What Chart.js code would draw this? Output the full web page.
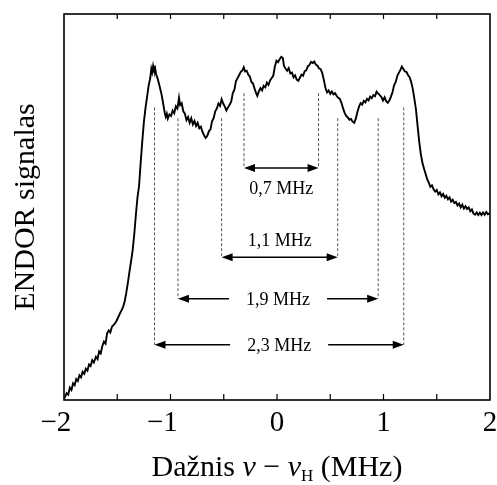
<!DOCTYPE html>
<html>
<head>
<meta charset="utf-8">
<script src="https://cdn.jsdelivr.net/npm/chart.js@4/dist/chart.umd.min.js"></script>
<style>
  body { margin: 0; background: #fff; }
  #wrap { width: 497px; height: 485px; }
</style>
</head>
<body>
<div id="wrap"><canvas id="endorChart"></canvas></div>
<script>
// ENDOR spectrum (x in MHz, signal in arbitrary units 0..100)
const freqMHz = [
  -2.00, -1.99, -1.975, -1.96, -1.945, -1.93, -1.915, -1.90, -1.885, -1.87,
  -1.855, -1.84, -1.825, -1.81, -1.795, -1.78, -1.765, -1.75, -1.735, -1.72,
  -1.70, -1.685, -1.67, -1.655, -1.64, -1.625, -1.61, -1.595, -1.58, -1.565,
  -1.55, -1.535, -1.52, -1.505, -1.49, -1.475, -1.46, -1.445, -1.43, -1.415,
  -1.40, -1.385, -1.37, -1.355, -1.34, -1.325, -1.31, -1.295, -1.28, -1.265,
  -1.25, -1.235, -1.22, -1.205, -1.19, -1.18, -1.172, -1.163, -1.155, -1.145,
  -1.135, -1.12, -1.10, -1.085, -1.07, -1.055, -1.045, -1.035, -1.025, -1.01,
  -0.995, -0.98, -0.965, -0.95, -0.935, -0.92, -0.91, -0.895, -0.88, -0.865,
  -0.85, -0.835, -0.82, -0.805, -0.79, -0.775, -0.76, -0.745, -0.73, -0.715,
  -0.70, -0.685, -0.67, -0.655, -0.64, -0.625, -0.61, -0.595, -0.58, -0.565,
  -0.55, -0.535, -0.52, -0.505, -0.49, -0.475, -0.46, -0.445, -0.43, -0.415,
  -0.40, -0.385, -0.37, -0.355, -0.34, -0.325, -0.312, -0.30, -0.285, -0.27,
  -0.255, -0.24, -0.225, -0.21, -0.195, -0.185, -0.17, -0.155, -0.14, -0.125,
  -0.11, -0.095, -0.08, -0.065, -0.05, -0.035, -0.02, -0.005, 0.01, 0.025,
  0.04, 0.055, 0.065, 0.08, 0.095, 0.11, 0.125, 0.14, 0.155, 0.17,
  0.185, 0.20, 0.215, 0.23, 0.245, 0.26, 0.275, 0.29, 0.305, 0.32,
  0.335, 0.35, 0.365, 0.38, 0.395, 0.41, 0.425, 0.44, 0.455, 0.47,
  0.485, 0.50, 0.515, 0.53, 0.545, 0.56, 0.575, 0.59, 0.605, 0.62,
  0.635, 0.65, 0.665, 0.68, 0.695, 0.71, 0.725, 0.74, 0.755, 0.77,
  0.785, 0.80, 0.815, 0.83, 0.845, 0.86, 0.875, 0.89, 0.905, 0.92,
  0.935, 0.95, 0.965, 0.98, 0.995, 1.01, 1.025, 1.04, 1.055, 1.07,
  1.085, 1.10, 1.115, 1.13, 1.145, 1.16, 1.172, 1.185, 1.20, 1.215,
  1.23, 1.245, 1.26, 1.275, 1.29, 1.305, 1.32, 1.335, 1.35, 1.365,
  1.38, 1.395, 1.41, 1.425, 1.44, 1.455, 1.47, 1.485, 1.50, 1.515,
  1.53, 1.545, 1.56, 1.575, 1.59, 1.605, 1.62, 1.635, 1.65, 1.665,
  1.68, 1.695, 1.71, 1.725, 1.74, 1.755, 1.77, 1.785, 1.80, 1.815,
  1.83, 1.845, 1.86, 1.875, 1.89, 1.905, 1.92, 1.935, 1.95, 1.965,
  1.98, 2.00
];
const signal = [
  0.3, 0.8, 1.8, 1.4, 3.2, 2.6, 4.3, 3.8, 5.4, 4.9,
  6.4, 5.9, 7.3, 6.8, 8.1, 7.6, 9.2, 8.8, 10.3, 9.7,
  11.2, 10.6, 12.6, 12.1, 14.0, 15.1, 14.6, 17.3, 18.0, 17.5,
  19.0, 19.4, 19.9, 20.6, 21.5, 22.4, 23.2, 24.1, 25.6, 27.8,
  30.4, 33.3, 36.0, 38.9, 43.0, 48.0, 52.5, 55.5, 61.5, 67.0,
  72.0, 75.6, 78.5, 81.5, 83.4, 85.8, 84.9, 86.6, 85.6, 86.1,
  84.4, 83.2, 81.0, 79.3, 77.0, 74.5, 73.4, 74.2, 72.9, 74.0,
  73.6, 75.0, 74.3, 76.1, 75.5, 78.3, 76.4, 76.9, 74.8, 74.2,
  72.5, 73.3, 71.8, 73.0, 71.4, 72.3, 71.0, 71.8, 70.4, 70.8,
  69.5, 68.6, 67.9, 68.4, 69.6, 70.1, 72.2, 73.0, 74.8, 75.5,
  76.8, 76.2, 77.9, 76.8, 76.0, 75.0, 75.8, 76.5, 77.3, 79.5,
  80.4, 82.6, 83.4, 84.2, 85.0, 85.4, 86.2, 85.1, 85.3, 84.3,
  83.8, 82.4, 82.0, 80.6, 79.4, 78.8, 80.0, 80.8, 80.2, 81.4,
  81.0, 82.2, 81.6, 82.8, 83.4, 84.0, 86.4, 87.9, 87.5, 88.3,
  88.9, 88.6, 86.6, 85.9, 85.3, 86.0, 84.6, 84.8, 83.6, 84.1,
  83.0, 82.7, 83.5, 84.3, 84.0, 85.2, 85.4, 86.5, 86.8, 87.6,
  87.3, 87.7, 86.9, 86.6, 85.9, 85.7, 84.7, 82.9, 80.8, 79.7,
  80.2, 79.3, 79.9, 79.2, 79.5, 78.8, 78.3, 78.0, 77.0, 75.6,
  74.4, 73.6, 73.2, 72.6, 72.8, 72.1, 71.8, 72.9, 74.6, 76.0,
  76.9, 76.5, 77.5, 77.1, 78.0, 77.6, 78.6, 78.2, 79.0, 78.7,
  79.9, 79.4, 79.0, 78.5, 77.6, 78.4, 77.4, 77.0, 77.6, 78.6,
  79.8, 81.6, 82.4, 84.0, 84.8, 85.6, 86.4, 85.8, 85.1, 85.0,
  84.2, 83.6, 82.4, 80.6, 78.0, 75.2, 71.0, 67.0, 63.8, 61.5,
  60.0, 58.6, 57.2, 56.3, 55.2, 55.6, 54.6, 54.0, 54.4, 53.3,
  53.8, 52.8, 53.4, 52.4, 52.9, 52.0, 52.5, 51.4, 51.9, 51.0,
  51.3, 50.4, 50.9, 49.9, 50.6, 49.6, 50.2, 49.5, 49.9, 48.9,
  49.4, 48.3, 48.0, 48.6, 47.9, 48.5, 47.9, 48.6, 48.0, 48.7,
  48.1, 48.4
];

// splitting annotations: label, left/right peak positions (MHz), top of dashed guide, arrow level
const splitLabels = ['0,7 MHz', '1,1 MHz', '1,9 MHz', '2,3 MHz'];
const splitLeft = [-0.31, -0.52, -0.93, -1.15];
const splitRight = [0.39, 0.57, 0.95, 1.19];
const guideTop = [79.5, 73.0, 73.0, 75.8];
const arrowLevel = [60.1, 37.0, 26.2, 14.3];
const labelLevel = [54.9, 41.3, 26.2, 14.3];
const labelInline = [false, false, true, true];

const xTickLabels = ['\u22122', '\u22121', '0', '1', '2'];
const xTickValues = [-2, -1, 0, 1, 2];

const SERIF = '"Liberation Serif", "Times New Roman", serif';

// dashed guide lines as datasets
const guideSets = [];
splitLabels.forEach((lab, i) => {
    [splitLeft[i], splitRight[i]].forEach(xv => {
        guideSets.push({
            data: [{ x: xv, y: guideTop[i] }, { x: xv, y: arrowLevel[i] }],
            borderColor: '#555',
            borderWidth: 1,
            borderDash: [3, 2],
            pointRadius: 0,
            fill: false
        });
    });
});

function arrowHead(ctx, x, y, dir) {
    ctx.beginPath();
    ctx.moveTo(x, y);
    ctx.lineTo(x - dir * 11, y - 4);
    ctx.lineTo(x - dir * 11, y + 4);
    ctx.closePath();
    ctx.fill();
}

const decorPlugin = {
    id: 'decor',
    afterDraw(chart) {
        const ctx = chart.ctx;
        const a = chart.chartArea;
        const xs = chart.scales.x;
        const ys = chart.scales.y;
        ctx.save();

        // frame
        ctx.strokeStyle = '#000';
        ctx.lineWidth = 1.6;
        ctx.strokeRect(a.left, a.top, a.right - a.left, a.bottom - a.top);

        // inward ticks every 0.5 MHz, top and bottom
        ctx.lineWidth = 1.2;
        for (let v = -1.5; v <= 1.5; v += 0.5) {
            const px = xs.getPixelForValue(v);
            ctx.beginPath();
            ctx.moveTo(px, a.bottom);
            ctx.lineTo(px, a.bottom - 6);
            ctx.moveTo(px, a.top);
            ctx.lineTo(px, a.top + 5);
            ctx.stroke();
        }

        // tick labels: digit centred on the tick, minus sign hanging left
        ctx.fillStyle = '#000';
        ctx.font = '29px ' + SERIF;
        ctx.textBaseline = 'alphabetic';
        ctx.textAlign = 'right';
        xTickValues.forEach((v, i) => {
            const px = xs.getPixelForValue(v);
            const digitW = ctx.measureText(String(Math.abs(v))).width;
            ctx.fillText(xTickLabels[i], px + digitW / 2, a.bottom + 31);
        });

        // x axis title with italic nu and subscript H
        const parts = [
            { t: 'Dažnis ', f: '30px ' + SERIF, dy: 0 },
            { t: 'ν', f: 'italic 30px ' + SERIF, dy: 0 },
            { t: ' \u2212 ', f: '30px ' + SERIF, dy: 0 },
            { t: 'ν', f: 'italic 30px ' + SERIF, dy: 0 },
            { t: 'H', f: '17px ' + SERIF, dy: 5 },
            { t: ' (MHz)', f: '30px ' + SERIF, dy: 0 }
        ];
        let total = 0;
        parts.forEach(p => { ctx.font = p.f; p.w = ctx.measureText(p.t).width; total += p.w; });
        let cx = (a.left + a.right) / 2 - total / 2;
        ctx.textAlign = 'left';
        parts.forEach(p => {
            ctx.font = p.f;
            ctx.fillText(p.t, cx, a.bottom + 76 + p.dy);
            cx += p.w;
        });

        // splitting arrows and labels
        ctx.font = '18px ' + SERIF;
        ctx.textAlign = 'center';
        ctx.textBaseline = 'middle';
        ctx.lineWidth = 1.5;
        splitLabels.forEach((lab, i) => {
            const x1 = xs.getPixelForValue(splitLeft[i]);
            const x2 = xs.getPixelForValue(splitRight[i]);
            const ay = ys.getPixelForValue(arrowLevel[i]);
            const mid = (x1 + x2) / 2;
            const ly = ys.getPixelForValue(labelLevel[i]);
            ctx.fillText(lab, mid, ly + 1);
            ctx.beginPath();
            if (labelInline[i]) {
                const half = ctx.measureText(lab).width / 2 + 17;
                ctx.moveTo(x1 + 4, ay);
                ctx.lineTo(mid - half, ay);
                ctx.moveTo(mid + half, ay);
                ctx.lineTo(x2 - 4, ay);
            } else {
                ctx.moveTo(x1 + 4, ay);
                ctx.lineTo(x2 - 4, ay);
            }
            ctx.stroke();
            arrowHead(ctx, x1, ay, -1);
            arrowHead(ctx, x2, ay, 1);
        });

        ctx.restore();
    }
};

const ctx = document.getElementById('endorChart').getContext('2d');
new Chart(ctx, {
    type: 'line',
    data: {
        datasets: [
            {
                data: freqMHz.map((f, i) => ({ x: f, y: signal[i] })),
                borderColor: '#000',
                borderWidth: 1.9,
                pointRadius: 0,
                tension: 0,
                fill: false
            },
            ...guideSets
        ]
    },
    options: {
        responsive: true,
        maintainAspectRatio: false,
        animation: false,
        layout: { padding: { top: 14, right: 7, bottom: 85, left: 0 } },
        plugins: { legend: { display: false }, tooltip: { enabled: false } },
        scales: {
            x: { type: 'linear', min: -2, max: 2, display: false },
            y: {
                min: 0,
                max: 100,
                ticks: { display: false },
                grid: { display: false },
                border: { display: false },
                title: {
                    display: true,
                    text: 'ENDOR signalas',
                    color: '#000',
                    font: { family: SERIF, size: 30 },
                    padding: { top: 8, bottom: 0 }
                },
                afterFit(scale) { scale.width = 64; }
            }
        }
    },
    plugins: [decorPlugin]
});
</script>
</body>
</html>
